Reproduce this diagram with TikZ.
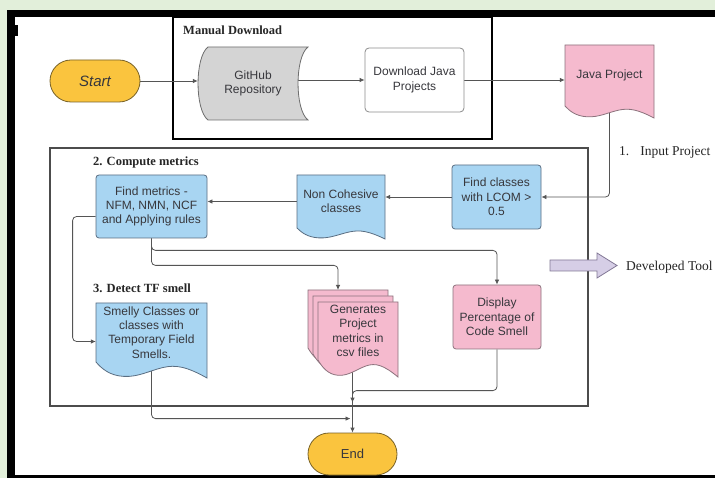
\documentclass[tikz,border=0pt]{standalone}
\usepackage{fontspec}
\setmainfont{Liberation Serif}
\setsansfont{Liberation Sans}
\usetikzlibrary{calc,arrows.meta}
\pgfdeclarelayer{bgl}
\pgfdeclarelayer{connl}
\pgfsetlayers{bgl,connl,main}
\definecolor{greenbg}{RGB}{226,239,218}
\definecolor{bluefill}{RGB}{168,213,242}
\definecolor{blueedge}{RGB}{90,110,130}
\definecolor{pinkfill}{RGB}{245,186,206}
\definecolor{pinkedge}{RGB}{140,115,125}
\definecolor{yelfill}{RGB}{250,196,62}
\definecolor{yeledge}{RGB}{120,98,40}
\definecolor{repofill}{RGB}{212,212,212}
\definecolor{repoedge}{RGB}{110,110,110}
\definecolor{lineg}{RGB}{85,85,85}
\definecolor{txt}{RGB}{55,55,60}
\definecolor{lavfill}{RGB}{214,206,230}
\definecolor{lavedge}{RGB}{130,120,150}
\newcommand\docshape[6]{%
\draw[#1] (#2,#3) -- (#4,#3) -- (#4,{#5+#6})
 .. controls ({#2+0.82*(#4-#2)},{#5+0.3*#6}) and ({#2+0.72*(#4-#2)},{#5+0.15*#6}) .. ({#2+0.6*(#4-#2)},{#5+0.35*#6})
 .. controls ({#2+0.48*(#4-#2)},{#5+0.55*#6}) and ({#2+0.38*(#4-#2)},{#5+0.95*#6}) .. ({#2+0.25*(#4-#2)},{#5+0.9*#6})
 .. controls ({#2+0.12*(#4-#2)},{#5+0.85*#6}) and ({#2+0.05*(#4-#2)},{#5+0.4*#6}) .. (#2,#5) -- cycle;}
\tikzset{
 box/.style={font=\sffamily\fontsize{12}{14.3}\selectfont, align=center, text=txt, inner sep=0pt},
 blueproc/.style={box, draw=blueedge, fill=bluefill, rounded corners=3pt, line width=0.8pt},
 pinkproc/.style={box, draw=pinkedge, fill=pinkfill, rounded corners=3pt, line width=0.8pt},
 whiteproc/.style={box, draw=repoedge!80, fill=white, rounded corners=4pt, line width=0.8pt},
 term/.style={box, draw=yeledge, fill=yelfill, rounded corners=21pt, line width=0.8pt},
 bluedoc/.style={draw=blueedge, fill=bluefill, line width=0.8pt},
 pinkdoc/.style={draw=pinkedge, fill=pinkfill, line width=0.8pt},
 repo/.style={draw=repoedge, fill=repofill, line width=0.8pt},
 conn/.style={draw=lineg, line width=0.8pt, rounded corners=4pt, -{Latex[length=5pt,width=4.5pt]}},
 heading/.style={font=\fontsize{12.5}{14}\selectfont\bfseries, text=black!85, inner sep=0pt, anchor=west},
 sidelab/.style={font=\fontsize{13.5}{15}\selectfont, text=black!85, inner sep=0pt, anchor=west},
}
\begin{document}
\begin{tikzpicture}[x=1pt,y=-1pt]
\useasboundingbox (0,0) rectangle (715,478);
\begin{pgfonlayer}{bgl}
 \fill[greenbg] (0,0) rectangle (715,478);
 \fill[black] (7,10) rectangle (715,478);
 \fill[white] (15,17) rectangle (715,475);
 \fill[black] (15,25) rectangle (17.5,36);
 \draw[black, line width=1.2pt] (173,17) rectangle (492,139);
 \draw[black!70, line width=1.3pt] (50,148) rectangle (588,406);
\end{pgfonlayer}

% headings
\node[heading] (hman) at (183,30) {Manual Download};
\node[heading] (hcomp) at (93,162) {2. Compute metrics};
\node[heading] (hdet) at (93,288) {3. Detect TF smell};
\node[sidelab] (hinp) at (619,152) {1.\hspace{11pt}Input Project};
\node[sidelab] (hdev) at (626,267) {Developed Tool};

% developed tool block arrow
\draw[draw=lavedge, fill=lavfill, line width=0.8pt]
 (550,260) -- (597,260) -- (597,253) -- (617,265.5) -- (597,278) -- (597,271) -- (550,271) -- cycle;

% top row
\node[term, minimum width=90pt, minimum height=42pt] (start) at (95,81) {\fontsize{15}{17}\selectfont\itshape Start};
\draw[repo] (208,47) -- (308,47) .. controls (294.7,57) and (294.7,110) .. (308,120)
 -- (208,120) .. controls (194.7,110) and (194.7,57) .. (208,47) -- cycle;
\node[box, minimum width=110pt, minimum height=73pt] (gh) at (253,83.5) {GitHub\\Repository};
\node[whiteproc, minimum width=99pt, minimum height=64pt] (dl) at (414.5,80) {Download Java\\Projects};
\docshape{pinkdoc}{565}{45}{654}{106}{12}
\node[box, minimum width=89pt, minimum height=61pt] (jp) at (609.5,75.5) {Java Project};

% section 2
\node[blueproc, minimum width=111pt, minimum height=63pt] (fm) at (151.5,206.5) {Find metrics -\\NFM, NMN, NCF\\and Applying rules};
\docshape{bluedoc}{297}{175}{385}{228}{11}
\node[box, minimum width=88pt, minimum height=53pt] (nc) at (341,201.5) {Non Cohesive\\classes};
\node[blueproc, minimum width=89pt, minimum height=64pt] (fc) at (496.5,197) {Find classes\\with LCOM >\\0.5};

% section 3
\docshape{bluedoc}{96}{303}{207}{362}{16}
\node[box, minimum width=111pt, minimum height=59pt] (sm) at (151.5,332.5) {Smelly Classes or\\classes with\\Temporary Field\\Smells.};
\docshape{pinkdoc}{308}{290}{388}{348}{17}
\docshape{pinkdoc}{313}{296}{393}{354}{17}
\docshape{pinkdoc}{318}{302}{398}{360}{17}
\node[box, minimum width=80pt, minimum height=58pt] (gen) at (358,331) {Generates\\Project\\metrics in\\csv files};
\coordinate (genin) at (338,290);
\node[pinkproc, minimum width=88pt, minimum height=64pt] (dp) at (497,317) {Display\\Percentage of\\Code Smell};
\node[term, minimum width=89pt, minimum height=42pt] (end) at (352.5,454) {\fontsize{13}{15}\selectfont End};

\begin{pgfonlayer}{connl}
 \draw[conn] (start.east) -- (start.east -| gh.west);
 \draw[conn] ($(dl.west -| gh.east)+(-10,0)$) -- (dl.west);
 \draw[conn] (dl.east) -- (dl.east -| jp.west);
 \draw[conn] (jp.south) |- (fc.east);
 \draw[conn] (fc.west) -- (fc.west -| nc.east);
 \draw[conn] (nc.west) -- (nc.west -| fm.east);
 \draw[conn] ($(fm.west)+(0,10)$) -- ++(-23,0) |- ($(sm.west)+(0,9)$);
 \draw[conn] (fm.south) -- ++(0,12) -| (dp.north);
 \draw[conn] (fm.south) -- ++(0,27) -| (genin);
 \draw[conn] (end.north |- gen.south) -- (end.north);
 \draw[conn] (dp.south) |- ($(end.north)+(0,-42)$) -- ($(end.north)+(0,-30)$);
 \draw[conn] (sm.south) |- ($(end.north)+(-2,-14)$);
\end{pgfonlayer}
\end{tikzpicture}
\end{document}
